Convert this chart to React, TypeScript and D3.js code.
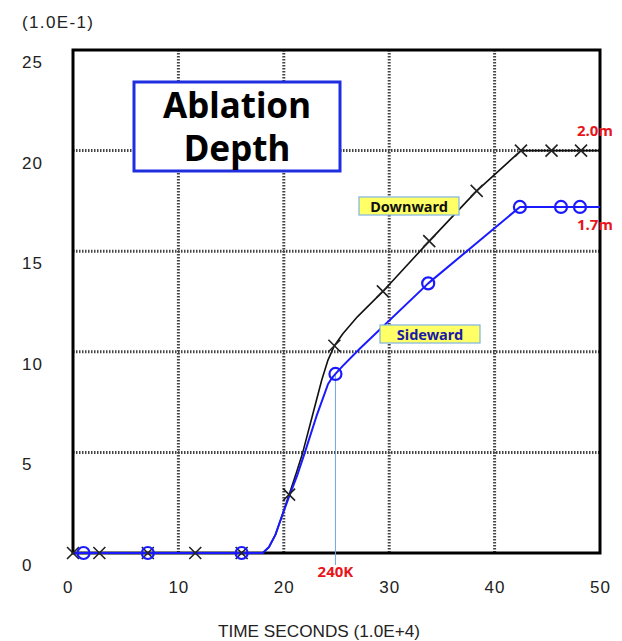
import React, { useEffect, useRef } from 'react';
import * as d3 from 'd3';

// Chart values
const xTicks = [0, 10, 20, 30, 40, 50];
const yTicks = [0, 5, 10, 15, 20, 25];

// line samples (time x1e4 s, depth x1e-1 m)
const downwardLine: [number, number][] = [
  [0, 0], [18, 0], [18.6, 0.3], [19.2, 0.9], [19.8, 1.8], [20.5, 2.9], [21.2, 4.0],
  [21.8, 5.0], [22.7, 6.8], [23.6, 8.6], [24.2, 9.6], [24.8, 10.3], [25.6, 10.9],
  [27, 11.75], [29.4, 13.0], [33.8, 15.5], [38.3, 18.0], [42.5, 20.0], [50, 20.0],
];
const sidewardLine: [number, number][] = [
  [0, 0], [18, 0], [18.6, 0.3], [19.2, 0.9], [19.8, 1.8], [20.5, 2.8], [21.3, 3.9],
  [22, 5.0], [23.1, 6.8], [24.2, 8.4], [24.6, 8.72], [24.9, 8.9], [25.6, 9.3],
  [27.2, 10.15], [33.7, 13.4], [42.4, 17.2], [50, 17.2],
];

// marker positions
const downwardMarks: [number, number][] = [
  [0, 0], [2.5, 0], [7.1, 0], [11.6, 0], [16.0, 0], [20.5, 2.9], [24.8, 10.3],
  [29.4, 13.0], [33.8, 15.5], [38.3, 18.0], [42.5, 20.0], [45.4, 20.0], [48.2, 20.0],
];
const sidewardMarks: [number, number][] = [
  [1.0, 0], [7.1, 0], [16.0, 0], [24.9, 8.9], [33.7, 13.4], [42.4, 17.2], [46.3, 17.2], [48.1, 17.2],
];

const markerTime = 24.9;
const markerDepth = 8.9;

const App: React.FC = () => {
  const svgRef = useRef<SVGSVGElement | null>(null);

  useEffect(() => {
    if (!svgRef.current) return;
    const svg = d3.select(svgRef.current);
    svg.selectAll('*').remove();

    const margin = { top: 50, left: 73, right: 22, bottom: 88 };
    const width = 622;
    const height = 641;
    const font = '"Liberation Sans", Arial, sans-serif';
    const boldFont = '"Noto Sans", "Open Sans", sans-serif';
    const red = '#e8141b';

    const x = d3.scaleLinear().domain([0, 50]).range([margin.left, width - margin.right]);
    const y = d3.scaleLinear().domain([0, 25]).range([height - margin.bottom, margin.top]);

    svg.append('rect').attr('width', width).attr('height', height).attr('fill', '#fff');

    // dotted grid
    const grid = svg.append('g');
    grid.selectAll('.vg')
      .data(xTicks.filter(d => d > 0 && d < 50))
      .enter().append('line')
      .attr('x1', d => x(d)).attr('x2', d => x(d))
      .attr('y1', y(25)).attr('y2', y(0))
      .attr('stroke', '#444').attr('stroke-width', 3).attr('stroke-dasharray', '1.5 1.5');
    grid.selectAll('.hg')
      .data(yTicks.filter(d => d > 0 && d < 25))
      .enter().append('line')
      .attr('x1', x(0)).attr('x2', x(50))
      .attr('y1', d => y(d)).attr('y2', d => y(d))
      .attr('stroke', '#444').attr('stroke-width', 3).attr('stroke-dasharray', '1.5 1.5');

    // frame
    svg.append('rect')
      .attr('x', x(0)).attr('y', y(25))
      .attr('width', x(50) - x(0)).attr('height', y(0) - y(25))
      .attr('fill', 'none').attr('stroke', '#000').attr('stroke-width', 3);

    // tick labels
    svg.selectAll('.xt')
      .data(xTicks)
      .enter().append('text')
      .attr('x', d => x(d) - 10).attr('y', y(0) + 40)
      .attr('font-family', font).attr('font-size', 17).attr('letter-spacing', 1).attr('fill', '#222')
      .text(d => d);
    svg.selectAll('.yt')
      .data(yTicks)
      .enter().append('text')
      .attr('x', 22).attr('y', d => y(d) + 18)
      .attr('font-family', font).attr('font-size', 17).attr('letter-spacing', 1).attr('fill', '#222')
      .text(d => d);

    svg.append('text').attr('x', 22).attr('y', 28)
      .attr('font-family', font).attr('font-size', 17).attr('fill', '#222')
      .attr('textLength', 71).attr('lengthAdjust', 'spacing')
      .text('(1.0E-1)');
    svg.append('text').attr('x', 319).attr('y', 637)
      .attr('text-anchor', 'middle')
      .attr('font-family', font).attr('font-size', 17).attr('fill', '#222')
      .attr('textLength', 202).attr('lengthAdjust', 'spacingAndGlyphs')
      .text('TIME SECONDS (1.0E+4)');

    // 240K marker line
    svg.append('line')
      .attr('x1', x(markerTime)).attr('x2', x(markerTime))
      .attr('y1', y(markerDepth)).attr('y2', y(0) + 12)
      .attr('stroke', '#6fa8dc').attr('stroke-width', 1);
    svg.append('text').attr('x', x(markerTime)).attr('y', y(0) + 24)
      .attr('text-anchor', 'middle')
      .attr('font-family', boldFont).attr('font-weight', 'bold').attr('font-size', 15).attr('fill', red)
      .text('240K');

    const line = d3.line<[number, number]>()
      .x(d => x(d[0])).y(d => y(d[1]));

    svg.append('path').datum(downwardLine)
      .attr('d', line).attr('fill', 'none').attr('stroke', '#111').attr('stroke-width', 1.6)
      .attr('stroke-linejoin', 'round');
    svg.append('path').datum(sidewardLine)
      .attr('d', line).attr('fill', 'none').attr('stroke', '#1a1aff').attr('stroke-width', 2)
      .attr('stroke-linejoin', 'round');

    // X markers
    const s = 6;
    const xm = svg.append('g');
    downwardMarks.forEach(d => {
      const cx = x(d[0]);
      const cy = y(d[1]);
      xm.append('path')
        .attr('d', `M${cx - s},${cy - s}L${cx + s},${cy + s}M${cx - s},${cy + s}L${cx + s},${cy - s}`)
        .attr('stroke', '#222').attr('stroke-width', 1.6).attr('fill', 'none');
    });

    // circle markers
    svg.selectAll('.cm')
      .data(sidewardMarks)
      .enter().append('circle')
      .attr('cx', d => x(d[0])).attr('cy', d => y(d[1])).attr('r', 6)
      .attr('fill', 'none').attr('stroke', '#1a1aff').attr('stroke-width', 2.2);

    // title box
    svg.append('rect').attr('x', 134).attr('y', 82).attr('width', 206).attr('height', 89)
      .attr('fill', '#fff').attr('stroke', '#1f2fe0').attr('stroke-width', 3);
    svg.append('text').attr('x', 237).attr('y', 118)
      .attr('text-anchor', 'middle')
      .attr('font-family', boldFont).attr('font-weight', 'bold').attr('font-size', 35).attr('fill', '#000')
      .text('Ablation');
    svg.append('text').attr('x', 237).attr('y', 161)
      .attr('text-anchor', 'middle')
      .attr('font-family', boldFont).attr('font-weight', 'bold').attr('font-size', 35).attr('fill', '#000')
      .text('Depth');

    // series labels
    const tag = (tx: number, ty: number, w: number, label: string, color: string) => {
      svg.append('rect').attr('x', tx).attr('y', ty).attr('width', w).attr('height', 18)
        .attr('fill', '#ffff66').attr('stroke', '#7fb2e0').attr('stroke-width', 1.2);
      svg.append('text').attr('x', tx + w / 2).attr('y', ty + 14.5)
        .attr('text-anchor', 'middle')
        .attr('font-family', boldFont).attr('font-weight', 'bold').attr('font-size', 14.5).attr('fill', color)
        .text(label);
    };
    tag(359, 197, 100, 'Downward', '#111');
    tag(380, 325, 100, 'Sideward', '#1a1aa8');

    // end values
    svg.append('text').attr('x', 595).attr('y', 136)
      .attr('text-anchor', 'middle')
      .attr('font-family', boldFont).attr('font-weight', 'bold').attr('font-size', 15).attr('fill', red)
      .text('2.0m');
    svg.append('text').attr('x', 595).attr('y', 230)
      .attr('text-anchor', 'middle')
      .attr('font-family', boldFont).attr('font-weight', 'bold').attr('font-size', 15).attr('fill', red)
      .text('1.7m');
  }, []);

  return (
    <svg ref={svgRef} width={622} height={641} style={{ position: 'absolute', left: 0, top: 0 }} />
  );
};

export default App;
